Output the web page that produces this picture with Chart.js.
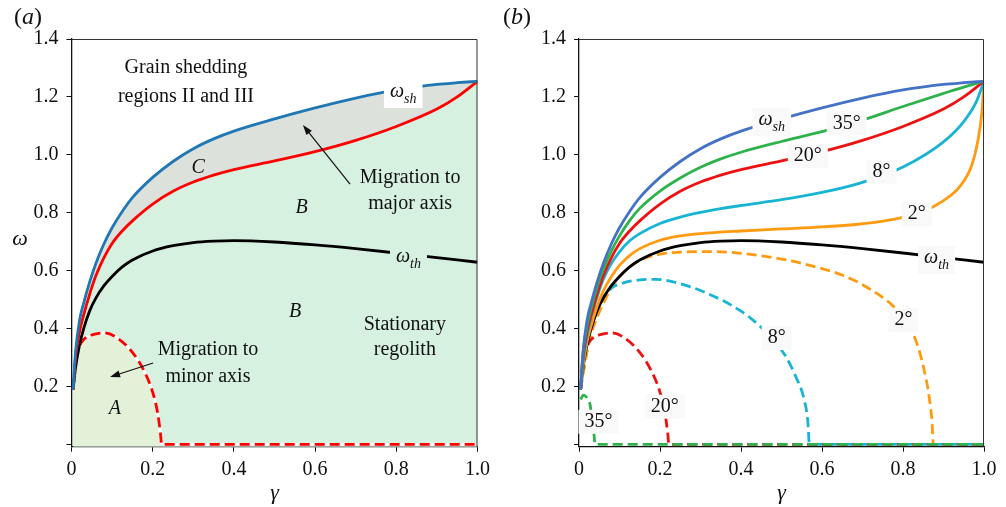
<!DOCTYPE html>
<html>
<head>
<meta charset="utf-8">
<script src="https://cdn.jsdelivr.net/npm/chart.js@4.4.0/dist/chart.umd.min.js"></script>
<style>
  html, body { margin: 0; padding: 0; background: #fff; }
  #wrap { position: relative; width: 1006px; height: 507px; }
  canvas { position: absolute; top: 0; }
  #ca { left: 0; }
  #cb { left: 500px; }
</style>
</head>
<body>
<div id="wrap">
  <canvas id="ca" width="500" height="507"></canvas>
  <canvas id="cb" width="506" height="507"></canvas>
</div>
<script>
// ---- axis ticks ----
const X_TICKS = [0, 0.2, 0.4, 0.6, 0.8, 1.0];
const Y_TICKS = [0, 0.2, 0.4, 0.6, 0.8, 1.0, 1.2, 1.4];

// ---- common gamma grid for the solid branches ----
const GAMMA = [0.004, 0.01, 0.02, 0.03, 0.045, 0.06, 0.08, 0.1, 0.125, 0.15, 0.2, 0.25, 0.3, 0.35, 0.4, 0.5, 0.6, 0.7, 0.8, 0.9, 0.95, 1.0];

// shedding limit omega_sh
const OMEGA_SH = [0.19, 0.32, 0.43, 0.488, 0.562, 0.625, 0.693, 0.748, 0.804, 0.852, 0.922, 0.977, 1.021, 1.055, 1.082, 1.124, 1.162, 1.196, 1.224, 1.243, 1.249, 1.254];
// threshold omega_th
const OMEGA_TH = [0.19, 0.265, 0.345, 0.40, 0.462, 0.505, 0.548, 0.58, 0.613, 0.637, 0.668, 0.686, 0.697, 0.702, 0.704, 0.699, 0.689, 0.676, 0.661, 0.645, 0.637, 0.629];
// upper branch, 20 deg
const UPPER_20 = [0.19, 0.30, 0.39, 0.447, 0.52, 0.582, 0.645, 0.694, 0.737, 0.772, 0.83, 0.874, 0.906, 0.93, 0.949, 0.979, 1.011, 1.05, 1.098, 1.158, 1.2, 1.254];
// upper branch, 35 deg
const UPPER_35 = [0.19, 0.315, 0.41, 0.47, 0.545, 0.605, 0.668, 0.72, 0.773, 0.815, 0.875, 0.92, 0.957, 0.986, 1.009, 1.046, 1.08, 1.12, 1.167, 1.212, 1.234, 1.254];
// upper branch, 8 deg
const GAMMA_8 = [0.004, 0.01, 0.02, 0.03, 0.045, 0.06, 0.08, 0.1, 0.125, 0.15, 0.2, 0.25, 0.3, 0.35, 0.4, 0.5, 0.6, 0.7, 0.8, 0.9, 0.95, 0.98, 1.0];
const UPPER_8 = [0.19, 0.285, 0.375, 0.44, 0.51, 0.57, 0.625, 0.665, 0.703, 0.728, 0.763, 0.785, 0.801, 0.814, 0.825, 0.845, 0.87, 0.905, 0.958, 1.045, 1.115, 1.18, 1.254];
// upper branch, 2 deg
const GAMMA_2 = [0.004, 0.01, 0.02, 0.03, 0.045, 0.06, 0.08, 0.1, 0.125, 0.15, 0.2, 0.25, 0.3, 0.4, 0.5, 0.6, 0.7, 0.78, 0.85, 0.9, 0.94, 0.97, 0.985, 0.995, 1.0];
const UPPER_2 = [0.19, 0.27, 0.355, 0.41, 0.478, 0.53, 0.58, 0.618, 0.652, 0.676, 0.705, 0.72, 0.728, 0.737, 0.744, 0.751, 0.762, 0.778, 0.805, 0.842, 0.89, 0.965, 1.05, 1.15, 1.254];

// lower branches (dashed)
const LOWER_20_X = [0.004, 0.01, 0.02, 0.03, 0.05, 0.08, 0.11, 0.15, 0.18, 0.2, 0.212, 0.219, 0.222, 1.0];
const LOWER_20_Y = [0.19, 0.29, 0.34, 0.362, 0.378, 0.385, 0.37, 0.318, 0.25, 0.18, 0.11, 0.04, 0, 0];
const LOWER_35_X = [0.004, 0.011, 0.02, 0.027, 0.032, 0.036, 0.04, 1.0];
const LOWER_35_Y = [0.155, 0.17, 0.16, 0.14, 0.09, 0.05, 0, 0];
const LOWER_8_X = [0.004, 0.01, 0.02, 0.03, 0.045, 0.06, 0.08, 0.11, 0.15, 0.19, 0.23, 0.28, 0.35, 0.4, 0.44, 0.48, 0.51, 0.535, 0.555, 0.565, 0.569, 1.0];
const LOWER_8_Y = [0.19, 0.26, 0.36, 0.42, 0.48, 0.51, 0.54, 0.558, 0.568, 0.57, 0.562, 0.542, 0.5, 0.46, 0.417, 0.36, 0.305, 0.235, 0.16, 0.08, 0, 0];
const LOWER_2_X = [0.004, 0.01, 0.02, 0.03, 0.045, 0.06, 0.08, 0.1, 0.15, 0.2, 0.25, 0.3, 0.35, 0.4, 0.5, 0.6, 0.66, 0.72, 0.77, 0.8, 0.83, 0.85, 0.865, 0.872, 0.875, 1.0];
const LOWER_2_Y = [0.19, 0.24, 0.32, 0.38, 0.44, 0.487, 0.54, 0.58, 0.635, 0.657, 0.664, 0.666, 0.665, 0.66, 0.64, 0.607, 0.579, 0.535, 0.485, 0.44, 0.365, 0.27, 0.16, 0.07, 0, 0];

// ---- text placed in data coordinates ----
const LABELS_A = [
  { text: 'Grain shedding', x: 0.282, y: 1.30 },
  { text: 'regions II and III', x: 0.282, y: 1.20 },
  { text: 'ω', sub: 'sh', italic: true, x: 0.817, y: 1.217, box: '#ffffff' },
  { text: 'C', italic: true, x: 0.312, y: 0.955 },
  { text: 'B', italic: true, x: 0.567, y: 0.816 },
  { text: 'Migration to', x: 0.834, y: 0.92 },
  { text: 'major axis', x: 0.834, y: 0.83 },
  { text: 'ω', sub: 'th', italic: true, x: 0.83, y: 0.647, box: '#d6f1e0' },
  { text: 'B', italic: true, x: 0.551, y: 0.457 },
  { text: 'Stationary', x: 0.821, y: 0.412 },
  { text: 'regolith', x: 0.821, y: 0.326 },
  { text: 'Migration to', x: 0.336, y: 0.326 },
  { text: 'minor axis', x: 0.336, y: 0.232 },
  { text: 'A', italic: true, x: 0.107, y: 0.122 }
];
const ARROWS_A = [
  { from: [0.686, 0.899], to: [0.570, 1.103] },
  { from: [0.201, 0.281], to: [0.095, 0.233] }
];
const BOX_B = '#f9f9f9';
const LABELS_B = [
  { text: 'ω', sub: 'sh', italic: true, x: 0.476, y: 1.12, box: BOX_B },
  { text: '35°', x: 0.661, y: 1.109, box: BOX_B },
  { text: '20°', x: 0.565, y: 0.996, box: BOX_B },
  { text: '8°', x: 0.747, y: 0.942, box: BOX_B },
  { text: '2°', x: 0.834, y: 0.795, box: BOX_B },
  { text: 'ω', sub: 'th', italic: true, x: 0.883, y: 0.644, box: BOX_B },
  { text: '8°', x: 0.488, y: 0.367, box: BOX_B },
  { text: '2°', x: 0.801, y: 0.429, box: BOX_B },
  { text: '20°', x: 0.212, y: 0.130, box: BOX_B },
  { text: '35°', x: 0.048, y: 0.078, box: BOX_B }
];

const FONT = '"Liberation Serif", "Times New Roman", serif';
Chart.defaults.font.family = FONT;
Chart.defaults.color = '#111';

const pts = (xs, ys) => xs.map((x, i) => ({ x: x, y: ys[i] }));

function lineDs(xs, ys, color, extra) {
  return Object.assign({
    data: pts(xs, ys),
    borderColor: color,
    backgroundColor: color,
    borderWidth: 2.8,
    pointRadius: 0,
    pointHoverRadius: 0,
    showLine: true,
    fill: false,
    cubicInterpolationMode: 'monotone',
    borderCapStyle: 'butt'
  }, extra || {});
}

function fillDs(xs, ys, color, target) {
  return {
    data: pts(xs, ys),
    borderWidth: 0,
    borderColor: 'rgba(0,0,0,0)',
    backgroundColor: color,
    pointRadius: 0,
    showLine: true,
    fill: target,
    cubicInterpolationMode: 'monotone'
  };
}

function drawLabel(ctx, L, px, py) {
  const size = 20, subSize = 14;
  const fMain = (L.italic ? 'italic ' : '') + size + 'px ' + FONT;
  const fSub = 'italic ' + subSize + 'px ' + FONT;
  ctx.font = fMain;
  const w1 = ctx.measureText(L.text).width;
  let w2 = 0;
  if (L.sub) { ctx.font = fSub; w2 = ctx.measureText(L.sub).width; }
  const w = w1 + w2;
  if (L.box) {
    const h = L.sub ? 28 : 24;
    ctx.fillStyle = L.box;
    ctx.fillRect(px - w / 2 - 6, py - h / 2 + (L.sub ? 2 : 0), w + 12, h);
  }
  ctx.fillStyle = '#111';
  ctx.textAlign = 'left';
  ctx.textBaseline = 'middle';
  ctx.font = fMain;
  ctx.fillText(L.text, px - w / 2, py);
  if (L.sub) {
    ctx.font = fSub;
    ctx.fillText(L.sub, px - w / 2 + w1, py + 7);
  }
}

function drawArrow(ctx, x1, y1, x2, y2) {
  const ang = Math.atan2(y2 - y1, x2 - x1);
  const hl = 10, hw = 3.5;
  ctx.strokeStyle = '#111';
  ctx.fillStyle = '#111';
  ctx.lineWidth = 1.2;
  ctx.beginPath();
  ctx.moveTo(x1, y1);
  ctx.lineTo(x2 - Math.cos(ang) * hl * 0.8, y2 - Math.sin(ang) * hl * 0.8);
  ctx.stroke();
  ctx.beginPath();
  ctx.moveTo(x2, y2);
  ctx.lineTo(x2 - Math.cos(ang) * hl - Math.sin(ang) * hw, y2 - Math.sin(ang) * hl + Math.cos(ang) * hw);
  ctx.lineTo(x2 - Math.cos(ang) * hl + Math.sin(ang) * hw, y2 - Math.sin(ang) * hl - Math.cos(ang) * hw);
  ctx.closePath();
  ctx.fill();
}

function decorPlugin(cfg) {
  return {
    id: 'decor',
    afterDatasetsDraw(chart) {
      const ctx = chart.ctx, xs = chart.scales.x, ys = chart.scales.y, ca = chart.chartArea;
      ctx.save();
      // frame on top and right
      ctx.strokeStyle = '#333';
      ctx.lineWidth = 1;
      ctx.beginPath();
      ctx.moveTo(ca.left, ca.top + 0.5);
      ctx.lineTo(ca.right - 0.5, ca.top + 0.5);
      ctx.lineTo(ca.right - 0.5, ca.bottom);
      ctx.stroke();
      (cfg.arrows || []).forEach(a => drawArrow(ctx,
        xs.getPixelForValue(a.from[0]), ys.getPixelForValue(a.from[1]),
        xs.getPixelForValue(a.to[0]), ys.getPixelForValue(a.to[1])));
      cfg.labels.forEach(L => drawLabel(ctx, L, xs.getPixelForValue(L.x), ys.getPixelForValue(L.y)));
      // axis titles
      ctx.fillStyle = '#111';
      ctx.textAlign = 'center';
      ctx.textBaseline = 'middle';
      ctx.font = 'italic 22px ' + FONT;
      ctx.fillText('γ', (ca.left + ca.right) / 2, ca.bottom + 47);
      if (cfg.yTitle) ctx.fillText('ω', cfg.yTitle[0], cfg.yTitle[1]);
      // panel tag
      const [tx, ty, letter] = cfg.tag;
      ctx.font = '24px ' + FONT;
      const wp = ctx.measureText('(').width;
      ctx.font = 'italic 24px ' + FONT;
      const wl = ctx.measureText(letter).width;
      let x0 = tx - (2 * wp + wl) / 2;
      ctx.textAlign = 'left';
      ctx.font = '24px ' + FONT;
      ctx.fillText('(', x0, ty);
      ctx.font = 'italic 24px ' + FONT;
      ctx.fillText(letter, x0 + wp, ty);
      ctx.font = '24px ' + FONT;
      ctx.fillText(')', x0 + wp + wl, ty);
      ctx.restore();
    }
  };
}

function scales(yWidth) {
  const grid = { drawOnChartArea: false, drawTicks: true, tickLength: 5, color: '#111', lineWidth: 1 };
  const tickFont = { family: FONT, size: 20 };
  return {
    x: {
      type: 'linear', min: 0, max: 1,
      afterBuildTicks: s => { s.ticks = X_TICKS.map(v => ({ value: v })); },
      afterFit: s => { s.height = 60.3; },
      grid: grid,
      border: { color: '#111', width: 1.3 },
      ticks: { font: tickFont, padding: 6, maxRotation: 0, autoSkip: false,
               callback: v => (v === 0 ? '0' : v.toFixed(1)) }
    },
    y: {
      type: 'linear', min: -0.008, max: 1.4,
      afterBuildTicks: s => { s.ticks = Y_TICKS.map(v => ({ value: v })); },
      afterFit: s => { s.width = yWidth; },
      grid: grid,
      border: { color: '#111', width: 1.3 },
      ticks: { font: tickFont, padding: 8, autoSkip: false,
               callback: v => (v === 0 ? '' : v.toFixed(1)) }
    }
  };
}

function baseOptions(yWidth, padRight) {
  return {
    responsive: false,
    animation: false,
    devicePixelRatio: 1,
    layout: { padding: { left: 0, top: 39, right: padRight, bottom: 0 } },
    plugins: { legend: { display: false }, tooltip: { enabled: false }, filler: { drawTime: 'beforeDatasetsDraw' } },
    events: [],
    scales: scales(yWidth)
  };
}

// ---- panel (a): regime map ----
const RED = '#ff0000', BLUE_A = '#1f77b4';
new Chart(document.getElementById('ca'), {
  type: 'scatter',
  data: {
    datasets: [
      lineDs(GAMMA, OMEGA_SH, BLUE_A),                                   // 0
      lineDs(GAMMA, UPPER_20, RED),                                      // 1
      lineDs(GAMMA, OMEGA_TH, '#000000'),                                // 2
      lineDs(LOWER_20_X, LOWER_20_Y, RED, { borderDash: [10, 5] }),     // 3
      lineDs(LOWER_20_X, LOWER_20_Y, '#ffffff'),                         // 4
      fillDs(LOWER_20_X, LOWER_20_Y, '#e2f1d7', 'start'),               // 5 region A
      fillDs(GAMMA, OMEGA_SH, '#dde1dc', 1),                             // 6 region C
      fillDs(GAMMA, UPPER_20, '#d6f1e0', 'start')                        // 7 region B
    ]
  },
  options: baseOptions(71.5, 22.5),
  plugins: [decorPlugin({ labels: LABELS_A, arrows: ARROWS_A, yTitle: [20, 239], tag: [28, 18, 'a'] })]
});

// ---- panel (b): branches for several friction angles ----
const C_BLUE = '#4472c4', C_GREEN = '#2eb24b', C_RED = '#ee1111', C_CYAN = '#17b5d3', C_ORANGE = '#ff9b10';
const DASH = { borderDash: [10, 5] };
new Chart(document.getElementById('cb'), {
  type: 'scatter',
  data: {
    datasets: [
      lineDs(GAMMA, OMEGA_SH, C_BLUE),
      lineDs(GAMMA, UPPER_35, C_GREEN),
      lineDs(GAMMA, UPPER_20, C_RED),
      lineDs(GAMMA_8, UPPER_8, C_CYAN),
      lineDs(GAMMA_2, UPPER_2, C_ORANGE),
      lineDs(GAMMA, OMEGA_TH, '#000000'),
      lineDs(LOWER_35_X, LOWER_35_Y, C_GREEN, DASH),
      lineDs(LOWER_20_X, LOWER_20_Y, C_RED, DASH),
      lineDs(LOWER_8_X, LOWER_8_Y, C_CYAN, DASH),
      lineDs(LOWER_2_X, LOWER_2_Y, C_ORANGE, DASH)
    ]
  },
  options: baseOptions(79, 22),
  plugins: [decorPlugin({ labels: LABELS_B, arrows: [], yTitle: null, tag: [17, 18, 'b'] })]
});
</script>
</body>
</html>
